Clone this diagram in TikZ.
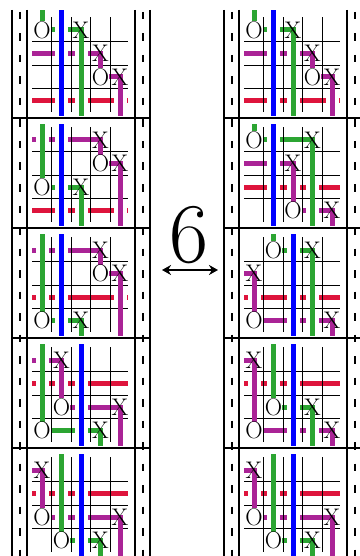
\documentclass[tikz,border=0pt]{standalone}
\usetikzlibrary{arrows.meta}
\definecolor{grn}{RGB}{44,165,50}
\definecolor{mag}{RGB}{170,35,150}
\definecolor{crim}{RGB}{222,20,60}
\pgfdeclarelayer{gridl}
\pgfdeclarelayer{vert}
\pgfdeclarelayer{marks}
\pgfsetlayers{main,gridl,vert,marks}
\newcommand\cellgrid{%
  \begin{pgfonlayer}{gridl}
    \foreach \cx in {0.5,1.5,2.5,3.5} \draw[gridline] (\cx,-0.55) -- (\cx,3.5);
    \foreach \ry in {0.5,1.5,2.5} \draw[gridline] (-0.5,\ry) -- (4.4,\ry);
  \end{pgfonlayer}}
\newcommand\vseg[3]{%
  \draw[halo] (#2) -- (#3);
  \begin{pgfonlayer}{vert}\draw[strand,#1] (#2) -- (#3);\end{pgfonlayer}}

\begin{document}
\begin{tikzpicture}[x=1pt,y=-1pt,
    rail/.style={line width=2pt},
    sprocket/.style={line width=2pt,dash pattern=on 7.5pt off 14pt},
    gridline/.style={line width=0.9pt},
    strand/.style={line width=5pt,line cap=rect},
    halo/.style={draw=white,line width=13pt,shorten <=6pt,shorten >=6pt},
    xmark/.style={inner sep=0pt,font=\fontsize{24}{24}\selectfont},
    omark/.style={xmark,fill=white},
    gridunits/.style={x=19.5pt,y=-23.5pt}]
    \useasboundingbox (0,0) rectangle (359,556);

    \foreach \s/\p in {12/l,224/r}{
        \foreach \d in {0,15,123,138} \draw[rail] (\s+\d,10) -- (\s+\d,556);
        \foreach \d in {8,131} \draw[sprocket] (\s+\d,12) -- (\s+\d,556);
        \foreach \y in {118,228,338,448} \draw[rail] (\s,\y) -- (\s+138,\y);

        \begin{scope}[shift={(\s+30,30)},gridunits]
            \cellgrid
            \begin{pgfonlayer}{marks}
                \node[omark] (\p Ao1) at (0,0) {O};
                \node[xmark] (\p Ax1) at (2,0) {X};
                \node[xmark] (\p Ax2) at (3,1) {X};
                \node[omark] (\p Ao2) at (3,2) {O};
                \node[xmark] (\p Ax3) at (4,2) {X};
            \end{pgfonlayer}
            \coordinate (\p AT) at (1,-0.75);
            \coordinate (\p AB) at (1,3.553);
            \coordinate (\p AL) at (-0.4,3);
            \coordinate (\p AR) at (4.3,3);
            \draw[strand,grn] (\p Ao1.center) -- (\p Ax1.center);
            \draw[strand,mag] (\p AL |- \p Ax2) -- (\p Ax2.center);
            \draw[strand,mag] (\p Ao2.center) -- (\p Ax3.center);
            \draw[strand,crim] (\p AL) -- (\p AR);
            \vseg{grn}{\p Ao1 |- \p AT}{\p Ao1.center}
            \vseg{grn}{\p Ax1.center}{\p Ax1 |- \p AB}
            \vseg{mag}{\p Ax2.center}{\p Ao2.center}
            \vseg{mag}{\p Ax3.center}{\p Ax3 |- \p AB}
            \vseg{blue}{\p AT}{\p AB}
        \end{scope}

        \begin{scope}[shift={(\s+30,470)},gridunits]
            \cellgrid
            \begin{pgfonlayer}{marks}
                \node[xmark] (\p Ex1) at (0,0) {X};
                \node[omark] (\p Eo1) at (0,2) {O};
                \node[xmark] (\p Ex2) at (4,2) {X};
                \node[omark] (\p Eo2) at (1,3) {O};
                \node[xmark] (\p Ex3) at (3,3) {X};
            \end{pgfonlayer}
            \coordinate (\p ET) at (2,-0.574);
            \coordinate (\p EB) at (2,3.553);
            \coordinate (\p EL) at (-0.4,1);
            \coordinate (\p ER) at (4.3,1);
            \draw[strand,mag] (\p EL |- \p Ex1) -- (\p Ex1.center);
            \draw[strand,mag] (\p Eo1.center) -- (\p Ex2.center);
            \draw[strand,grn] (\p Eo2.center) -- (\p Ex3.center);
            \draw[strand,crim] (\p EL) -- (\p ER);
            \vseg{grn}{\p Eo2 |- \p ET}{\p Eo2.center}
            \vseg{grn}{\p Ex3.center}{\p Ex3 |- \p EB}
            \vseg{mag}{\p Ex1.center}{\p Eo1.center}
            \vseg{mag}{\p Ex2.center}{\p Ex2 |- \p EB}
            \vseg{blue}{\p ET}{\p EB}
        \end{scope}
    }

    \begin{scope}[shift={(42,140)},gridunits]
        \cellgrid
        \begin{pgfonlayer}{marks}
            \node[xmark] (bx1) at (3,0) {X};
            \node[omark] (bo1) at (3,1) {O};
            \node[xmark] (bx2) at (4,1) {X};
            \node[omark] (bo2) at (0,2) {O};
            \node[xmark] (bx3) at (2,2) {X};
        \end{pgfonlayer}
        \coordinate (bT) at (1,-0.574);
        \coordinate (bB) at (1,3.553);
        \coordinate (bL) at (-0.4,3);
        \coordinate (bR) at (4.3,3);
        \draw[strand,mag] (bL |- bx1) -- (bx1.center);
        \draw[strand,mag] (bo1.center) -- (bx2.center);
        \draw[strand,grn] (bo2.center) -- (bx3.center);
        \draw[strand,crim] (bL) -- (bR);
        \vseg{grn}{bo2 |- bT}{bo2.center}
        \vseg{grn}{bx3.center}{bx3 |- bB}
        \vseg{mag}{bx1.center}{bo1.center}
        \vseg{mag}{bx2.center}{bx2 |- bB}
        \vseg{blue}{bT}{bB}
    \end{scope}

    \begin{scope}[shift={(42,250)},gridunits]
        \cellgrid
        \begin{pgfonlayer}{marks}
            \node[xmark] (cx1) at (3,0) {X};
            \node[omark] (co1) at (3,1) {O};
            \node[xmark] (cx2) at (4,1) {X};
            \node[omark] (co2) at (0,3) {O};
            \node[xmark] (cx3) at (2,3) {X};
        \end{pgfonlayer}
        \coordinate (cT) at (1,-0.574);
        \coordinate (cB) at (1,3.553);
        \coordinate (cL) at (-0.4,2);
        \coordinate (cR) at (4.3,2);
        \draw[strand,mag] (cL |- cx1) -- (cx1.center);
        \draw[strand,mag] (co1.center) -- (cx2.center);
        \draw[strand,grn] (co2.center) -- (cx3.center);
        \draw[strand,crim] (cL) -- (cR);
        \vseg{grn}{co2 |- cT}{co2.center}
        \vseg{grn}{cx3.center}{cx3 |- cB}
        \vseg{mag}{cx1.center}{co1.center}
        \vseg{mag}{cx2.center}{cx2 |- cB}
        \vseg{blue}{cT}{cB}
    \end{scope}

    \begin{scope}[shift={(42,360)},gridunits]
        \cellgrid
        \begin{pgfonlayer}{marks}
            \node[xmark] (dx1) at (1,0) {X};
            \node[omark] (do1) at (1,2) {O};
            \node[xmark] (dx2) at (4,2) {X};
            \node[omark] (do2) at (0,3) {O};
            \node[xmark] (dx3) at (3,3) {X};
        \end{pgfonlayer}
        \coordinate (dT) at (2,-0.574);
        \coordinate (dB) at (2,3.553);
        \coordinate (dL) at (-0.4,1);
        \coordinate (dR) at (4.3,1);
        \draw[strand,mag] (dL |- dx1) -- (dx1.center);
        \draw[strand,mag] (do1.center) -- (dx2.center);
        \draw[strand,grn] (do2.center) -- (dx3.center);
        \draw[strand,crim] (dL) -- (dR);
        \vseg{grn}{do2 |- dT}{do2.center}
        \vseg{grn}{dx3.center}{dx3 |- dB}
        \vseg{mag}{dx1.center}{do1.center}
        \vseg{mag}{dx2.center}{dx2 |- dB}
        \vseg{blue}{dT}{dB}
    \end{scope}

    \begin{scope}[shift={(254,140)},gridunits]
        \cellgrid
        \begin{pgfonlayer}{marks}
            \node[omark] (fo1) at (0,0) {O};
            \node[xmark] (fx1) at (3,0) {X};
            \node[xmark] (fx2) at (2,1) {X};
            \node[omark] (fo2) at (2,3) {O};
            \node[xmark] (fx3) at (4,3) {X};
        \end{pgfonlayer}
        \coordinate (fT) at (1,-0.574);
        \coordinate (fB) at (1,3.553);
        \coordinate (fL) at (-0.4,2);
        \coordinate (fR) at (4.3,2);
        \draw[strand,grn] (fo1.center) -- (fx1.center);
        \draw[strand,mag] (fL |- fx2) -- (fx2.center);
        \draw[strand,mag] (fo2.center) -- (fx3.center);
        \draw[strand,crim] (fL) -- (fR);
        \vseg{grn}{fo1 |- fT}{fo1.center}
        \vseg{grn}{fx1.center}{fx1 |- fB}
        \vseg{mag}{fx2.center}{fo2.center}
        \vseg{mag}{fx3.center}{fx3 |- fB}
        \vseg{blue}{fT}{fB}
    \end{scope}

    \begin{scope}[shift={(254,250)},gridunits]
        \cellgrid
        \begin{pgfonlayer}{marks}
            \node[omark] (go1) at (1,0) {O};
            \node[xmark] (gx1) at (3,0) {X};
            \node[xmark] (gx2) at (0,1) {X};
            \node[omark] (go2) at (0,3) {O};
            \node[xmark] (gx3) at (4,3) {X};
        \end{pgfonlayer}
        \coordinate (gT) at (2,-0.574);
        \coordinate (gB) at (2,3.553);
        \coordinate (gL) at (-0.4,2);
        \coordinate (gR) at (4.3,2);
        \draw[strand,grn] (go1.center) -- (gx1.center);
        \draw[strand,mag] (gL |- gx2) -- (gx2.center);
        \draw[strand,mag] (go2.center) -- (gx3.center);
        \draw[strand,crim] (gL) -- (gR);
        \vseg{grn}{go1 |- gT}{go1.center}
        \vseg{grn}{gx1.center}{gx1 |- gB}
        \vseg{mag}{gx2.center}{go2.center}
        \vseg{mag}{gx3.center}{gx3 |- gB}
        \vseg{blue}{gT}{gB}
    \end{scope}

    \begin{scope}[shift={(254,360)},gridunits]
        \cellgrid
        \begin{pgfonlayer}{marks}
            \node[xmark] (hx1) at (0,0) {X};
            \node[omark] (ho1) at (1,2) {O};
            \node[xmark] (hx2) at (3,2) {X};
            \node[omark] (ho2) at (0,3) {O};
            \node[xmark] (hx3) at (4,3) {X};
        \end{pgfonlayer}
        \coordinate (hT) at (2,-0.574);
        \coordinate (hB) at (2,3.553);
        \coordinate (hL) at (-0.4,1);
        \coordinate (hR) at (4.3,1);
        \draw[strand,mag] (hL |- hx1) -- (hx1.center);
        \draw[strand,grn] (ho1.center) -- (hx2.center);
        \draw[strand,mag] (ho2.center) -- (hx3.center);
        \draw[strand,crim] (hL) -- (hR);
        \vseg{grn}{ho1 |- hT}{ho1.center}
        \vseg{grn}{hx2.center}{hx2 |- hB}
        \vseg{mag}{hx1.center}{ho2.center}
        \vseg{mag}{hx3.center}{hx3 |- hB}
        \vseg{blue}{hT}{hB}
    \end{scope}

    \node[anchor=base,font=\fontsize{85}{85}\selectfont] (movecount) at (189.5,262) {6};
    \coordinate (arrl) at (162,270);
    \coordinate (arrr) at (218,270);
    \draw[line width=1.5pt,{Stealth[length=9pt,width=10pt]}-{Stealth[length=9pt,width=10pt]}] (arrl) -- (arrr);
\end{tikzpicture}
\end{document}
